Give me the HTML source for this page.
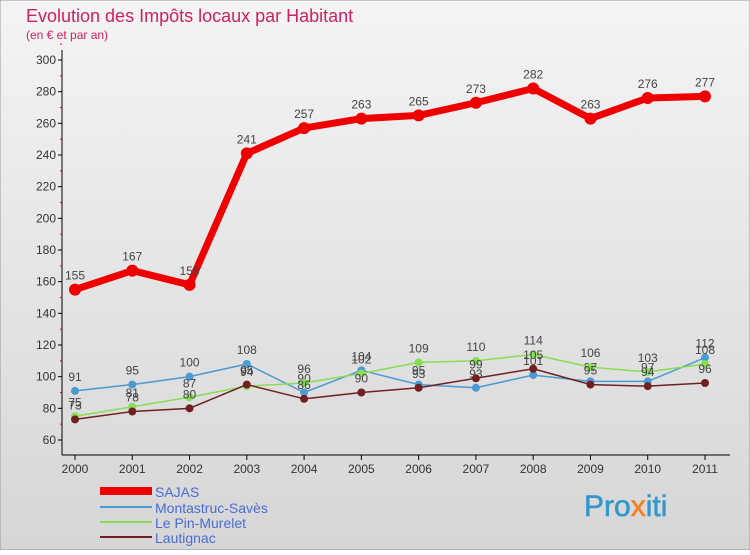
<!DOCTYPE html>
<html><head><meta charset="utf-8"><style>
body{margin:0;width:750px;height:550px;overflow:hidden;font-family:"Liberation Sans",sans-serif}
</style></head><body>
<svg id="c" width="750" height="550" xmlns="http://www.w3.org/2000/svg">
<defs><linearGradient id="bg" x1="0" y1="0" x2="0" y2="1"><stop offset="0" stop-color="#f4f4f4"/><stop offset="1" stop-color="#d6d6d6"/></linearGradient></defs>
<rect width="750" height="550" fill="url(#bg)" stroke="#999"/>
<text x="26" y="22" font-size="18" fill="#d02060">Evolution des Impôts locaux par Habitant</text>
<text x="26" y="39" font-size="12" fill="#d02060">(en € et par an)</text>
<g id="axes"></g><g id="series"></g>
<g>
<rect x="100" y="487" width="52" height="8" fill="#e00"/>
<text x="155" y="497" font-size="14" fill="#4a6cd4">SAJAS</text>
<line x1="100" y1="507" x2="152" y2="507" stroke="#4a9ad4" stroke-width="2"/>
<text x="155" y="513" font-size="14" fill="#4a6cd4">Montastruc-Savès</text>
<line x1="100" y1="522" x2="152" y2="522" stroke="#88dd55" stroke-width="2"/>
<text x="155" y="528" font-size="14" fill="#4a6cd4">Le Pin-Murelet</text>
<line x1="100" y1="537" x2="152" y2="537" stroke="#702020" stroke-width="2"/>
<text x="155" y="543" font-size="14" fill="#4a6cd4">Lautignac</text>
</g>
<text x="584" y="516" font-size="30" fill="#3399cc" stroke="#3399cc" stroke-width="0.6">Pro<tspan fill="#f08020" stroke="#f08020">x</tspan>iti</text>
</svg>
<script>
const years=["2000","2001","2002","2003","2004","2005","2006","2007","2008","2009","2010","2011"];
const yTicks=[60,80,100,120,140,160,180,200,220,240,260,280,300];
const sajas=[155,167,158,241,257,263,265,273,282,263,276,277];
const montastruc=[91,95,100,108,90,104,95,93,101,97,97,112];
const lePin=[75,81,87,94,96,102,109,110,114,106,103,108];
const lautignac=[73,78,80,95,86,90,93,99,105,95,94,96];
const NS="http://www.w3.org/2000/svg";
const X=i=>75+i*(630/11);
const Y=v=>440-(v-60)*(380/240);
function mk(t,a,p){const e=document.createElementNS(NS,t);for(const k in a)e.setAttribute(k,a[k]);p.appendChild(e);return e;}
const ax=document.getElementById('axes');
const yl=mk('line',{x1:62,y1:50,x2:62,y2:455,stroke:'#000'},ax);


const xl=mk('line',{x1:62,y1:455,x2:730,y2:455,stroke:'#000'},ax);


yTicks.forEach(v=>{
 mk('line',{x1:58,y1:Y(v),x2:62,y2:Y(v),stroke:'#000'},ax);
 mk('line',{x1:60,y1:Y(v+10),x2:62,y2:Y(v+10),stroke:'#e00'},ax);
 const t=mk('text',{x:56,y:Y(v)+4,'font-size':12,'text-anchor':'end',fill:'#333'},ax);t.textContent=v;
 
 
});
years.forEach((y,i)=>{
 mk('line',{x1:X(i),y1:455,x2:X(i),y2:460,stroke:'#000'},ax);
 const t=mk('text',{x:X(i),y:465+8,'font-size':12,'text-anchor':'middle',fill:'#333'},ax);t.textContent=y;
 
 
});
const sg=document.getElementById('series');
function draw(vals,color,w,r,name){
 const g=mk('g',{},sg);
 
 
 mk('polyline',{points:vals.map((v,i)=>X(i)+','+Y(v)).join(' '),fill:'none',stroke:color,'stroke-width':w,'stroke-linejoin':'round'},g);
 vals.forEach((v,i)=>{
  const c=mk('circle',{cx:X(i),cy:Y(v),r:r,fill:color},g);
  
  
  const t=mk('text',{x:X(i),y:Y(v)-10,'font-size':12,'text-anchor':'middle',fill:'#444'},g);t.textContent=v;
 });
}
draw(montastruc,'#4a9ad4',1.5,4,'montastruc');
draw(lePin,'#88dd55',1.5,4,'le-pin');
draw(lautignac,'#702020',1.5,4,'lautignac');
draw(sajas,'#ee0000',7,6,'sajas');
</script>
</body></html>
